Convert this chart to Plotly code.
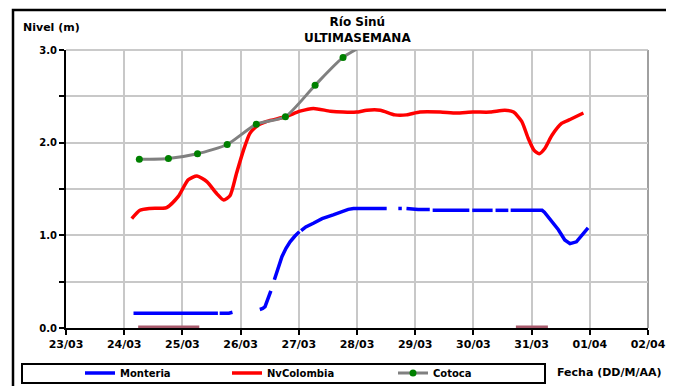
import plotly.graph_objects as go
from datetime import datetime, timedelta

# ---- data (day-of-March fractions; 32 = 01/04) ----
monteria_day = [24.16, 24.6, 25.0, 25.4, 25.61, None, 25.64, 25.80, 25.86, None,
                26.33, 26.38, 26.42, 26.48, 26.52, None,
                26.58, 26.65, 26.71, 26.78, 26.85, 26.93, 27.01, None, 27.04, 27.12, 27.25, 27.40,
                27.59, 27.71, 27.85, 27.94, 28.20, 28.51, None, 28.71, 28.77, None,
                28.85, 29.05, 29.25, None, 29.30, 29.60, 29.93, None, 29.98, 30.33, None,
                30.38, 30.60, None, 30.64, 30.90, 31.18, 31.22, 31.32, 31.46, 31.57, 31.66,
                31.77, 31.89, 31.97]
monteria_val = [0.16, 0.16, 0.16, 0.16, 0.16, None, 0.16, 0.16, 0.17, None,
                0.20, 0.21, 0.23, 0.32, 0.40, None,
                0.52, 0.65, 0.77, 0.86, 0.93, 0.99, 1.04, None, 1.05, 1.09, 1.13, 1.18,
                1.22, 1.25, 1.28, 1.29, 1.29, 1.29, None, 1.29, 1.29, None,
                1.29, 1.28, 1.28, None, 1.27, 1.27, 1.27, None, 1.27, 1.27, None,
                1.27, 1.27, None, 1.27, 1.27, 1.27, 1.25, 1.17, 1.06, 0.95, 0.91,
                0.93, 1.02, 1.08]

nvcol_day = [24.13, 24.27, 24.44, 24.73, 24.93, 25.10, 25.25, 25.42, 25.59, 25.71,
             25.82, 25.93, 26.05, 26.16, 26.28, 26.45, 26.77, 27.02, 27.25, 27.54,
             27.76, 27.99, 28.17, 28.40, 28.65, 28.85, 29.08, 29.43, 29.71, 29.99,
             30.29, 30.54, 30.69, 30.83, 30.94, 31.04, 31.13, 31.23, 31.35, 31.52,
             31.66, 31.89]
nvcol_val = [1.18, 1.27, 1.29, 1.30, 1.42, 1.60, 1.64, 1.58, 1.45, 1.38,
             1.43, 1.67, 1.92, 2.10, 2.18, 2.23, 2.28, 2.34, 2.37, 2.34,
             2.33, 2.33, 2.35, 2.35, 2.30, 2.30, 2.33, 2.33, 2.32, 2.33,
             2.33, 2.35, 2.33, 2.23, 2.05, 1.92, 1.88, 1.94, 2.08, 2.21,
             2.25, 2.32]

cotoca_day = [24.26, 24.76, 25.26, 25.77, 26.27, 26.77, 27.28, 27.76, 28.26]
cotoca_val = [1.82, 1.83, 1.88, 1.98, 2.20, 2.28, 2.62, 2.92, 3.10]

flag_day = [24.24, 25.29, None, 30.73, 31.28]
flag_val = [0, 0, None, 0, 0]

y_tickvals = [0, 0.5, 1.0, 1.5, 2.0, 2.5, 3.0]
y_ticktext = ["<b>0.0</b>", "", "<b>1.0</b>", "", "<b>2.0</b>", "", "<b>3.0</b>"]

base = datetime(2013, 3, 23)


def to_dt(d):
    return None if d is None else (base + timedelta(days=d - 23)).strftime("%Y-%m-%d %H:%M:%S")


x_ticks = [to_dt(d) for d in range(23, 34)]
x_ticktext = ["23/03", "24/03", "25/03", "26/03", "27/03", "28/03", "29/03",
              "30/03", "31/03", "01/04", "02/04"]
x_ticktext = ["<b>%s</b>" % t for t in x_ticktext]

FONT = "DejaVu Sans"

# page body margin offset (the figure is drawn 8px in from the window corner)
OFF = 8
W, H = 674, 386
# target plot area in window pixels: x 66..648, y 50..328
L, T = 66 - OFF, 50 - OFF
PW, PH = 582, 278
R = W - L - PW
B = H - T - PH


def px(x):
    return (x - OFF - L) / PW


def py(y):
    return (T + PH - (y - OFF)) / PH


fig = go.Figure()

fig.add_trace(go.Scatter(x=[to_dt(d) for d in flag_day], y=flag_val, mode="lines",
                         line=dict(color="#a85a6c", width=5), showlegend=False,
                         hoverinfo="skip"))

fig.add_trace(go.Scatter(x=[to_dt(d) for d in monteria_day], y=monteria_val, mode="lines",
                         name="<b>Monteria</b>", line=dict(color="#0000ff", width=3.5),
                         legend="legend"))
fig.add_trace(go.Scatter(x=[to_dt(d) for d in nvcol_day], y=nvcol_val, mode="lines",
                         name="<b>NvColombia</b>",
                         line=dict(color="#ff0000", width=3.5, shape="spline", smoothing=0.6),
                         legend="legend2"))
fig.add_trace(go.Scatter(x=[to_dt(d) for d in cotoca_day], y=cotoca_val, mode="lines+markers",
                         name="<b>Cotoca</b>",
                         line=dict(color="#808080", width=3, shape="spline", smoothing=0.6),
                         marker=dict(color="#008000", size=7),
                         legend="legend3"))

leg_common = dict(orientation="h", yanchor="middle", y=py(373), xanchor="left",
                  bgcolor="rgba(0,0,0,0)", borderwidth=0,
                  font=dict(family=FONT, size=10, color="black"))

fig.update_layout(
    width=W, height=H,
    margin=dict(l=L, r=R, t=T, b=B, autoexpand=False),
    paper_bgcolor="white", plot_bgcolor="white",
    font=dict(family=FONT, color="black"),
    legend=dict(x=px(80), **leg_common),
    legend2=dict(x=px(227), **leg_common),
    legend3=dict(x=px(393), **leg_common),
    xaxis=dict(
        type="date",
        range=[to_dt(23), to_dt(33)],
        tickvals=x_ticks, ticktext=x_ticktext,
        showgrid=True, gridcolor="#c8c8c8", gridwidth=1.5,
        showline=True, linecolor="black", linewidth=2,
        ticks="outside", ticklen=5, tickwidth=1.5, tickcolor="black",
        tickfont=dict(family=FONT, size=11, color="black"),
        zeroline=False, layer="below traces", automargin=False,
    ),
    yaxis=dict(
        range=[0, 3],
        tickvals=y_tickvals, ticktext=y_ticktext,
        showgrid=True, gridcolor="#c8c8c8", gridwidth=1.5,
        showline=True, linecolor="black", linewidth=2,
        ticks="outside", ticklen=5, tickwidth=1.5, tickcolor="black",
        tickfont=dict(family=FONT, size=10, color="black"),
        zeroline=False, layer="below traces", automargin=False,
    ),
    shapes=[
        # outer frame
        dict(type="rect", xref="paper", yref="paper",
             x0=px(13), x1=px(700), y0=py(10), y1=py(420),
             line=dict(color="black", width=2.5), layer="below"),
        # right plot border
        dict(type="line", xref="paper", yref="paper", x0=1, x1=1, y0=0, y1=1,
             line=dict(color="#a0a0a0", width=2), layer="below"),
        # top plot border
        dict(type="line", xref="paper", yref="paper", x0=0, x1=1, y0=1, y1=1,
             line=dict(color="#b8b8b8", width=1.5), layer="below"),
        # legend box
        dict(type="rect", xref="paper", yref="paper",
             x0=px(22), x1=px(545), y0=py(364), y1=py(383),
             line=dict(color="black", width=2), layer="below"),
    ],
    annotations=[
        dict(text="<b>Río Sinú</b><br><b>ULTIMASEMANA</b>", x=px(357), y=py(30),
             xref="paper", yref="paper", xanchor="center", yanchor="middle",
             showarrow=False, font=dict(family=FONT, size=12, color="black")),
        dict(text="<b>Nivel (m)</b>", x=px(21), y=py(27),
             xref="paper", yref="paper", xanchor="left", yanchor="middle",
             showarrow=False, font=dict(family=FONT, size=11, color="black")),
        dict(text="<b>Fecha (DD/M/AA)</b>", x=px(555), y=py(373),
             xref="paper", yref="paper", xanchor="left", yanchor="middle",
             showarrow=False, font=dict(family=FONT, size=11, color="black")),
    ],
)

fig.write_html("out.html")
